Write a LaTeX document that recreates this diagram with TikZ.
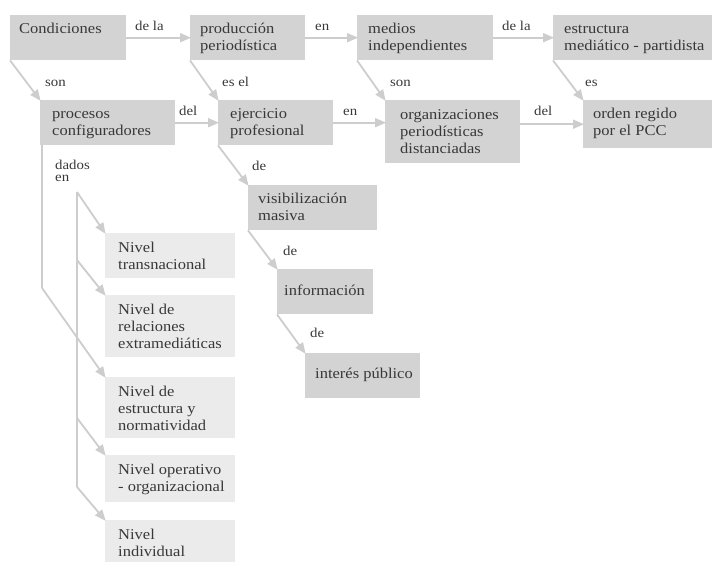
\documentclass[tikz,border=0pt]{standalone}
\usepackage{fontspec}
\setmainfont{Liberation Serif}[FakeStretch=1.1]
\usetikzlibrary{arrows.meta}
\definecolor{boxdark}{HTML}{D3D3D3}
\definecolor{boxlight}{HTML}{EBEBEB}
\definecolor{txt}{HTML}{383838}
\definecolor{arr}{HTML}{CDCDCD}
% \bx[first-line offset]{left pad}{width}{height}{text}
\newcommand{\bx}[5][18.5]{\parbox[t][#4pt][t]{#3pt}{\raggedright\leftskip=#2pt\hbadness=10000\hfuzz=100pt\rule{0pt}{#1pt}#5}}
\tikzset{
  dk/.style={fill=boxdark, anchor=north west, inner sep=0pt, text=txt, font=\fontsize{15}{17}\selectfont},
  lt/.style={dk, fill=boxlight},
  lbl/.style={anchor=base west, inner sep=0pt, text=txt, font=\fontsize{13.5}{12}\selectfont, align=left},
  conn/.style={draw=arr, line width=1.8pt, -{Triangle[length=11pt,width=9pt]}, shorten >=-1pt},
  trunk/.style={draw=arr, line width=1.8pt}
}
\begin{document}
\begin{tikzpicture}[x=1pt,y=-1pt]
\useasboundingbox (0,0) rectangle (728,562);
% top row
\node[dk] (cond) at (10,15) {\bx{9}{116}{45}{Condiciones}};
\node[dk] (prod) at (190,15) {\bx{10}{115}{45}{producción\\periodística}};
\node[dk] (med) at (357,15) {\bx{11}{136}{45}{medios\\independientes}};
\node[dk] (estr) at (553,15) {\bx{11}{159}{45}{estructura\\mediático - partidista}};
% second row
\node[dk] (proc) at (40,100) {\bx{12}{135}{45}{procesos\\configuradores}};
\node[dk] (ejer) at (218,100) {\bx{12}{115}{45}{ejercicio\\profesional}};
\node[dk] (org) at (385,100) {\bx[19]{15}{135}{63}{organizaciones\\periodísticas\\distanciadas}};
\node[dk] (orden) at (583,100) {\bx{10}{129}{48}{orden regido\\por el PCC}};
% chain
\node[dk] (vis) at (248,185) {\bx{10}{129}{45}{visibilización\\masiva}};
\node[dk] (info) at (277,269) {\bx[26]{7}{96}{45}{información}};
\node[dk] (inter) at (305,353) {\bx[25]{10}{115}{45}{interés público}};
% levels
\node[lt] (trans) at (105,233) {\bx[19]{13}{130}{45}{Nivel\\transnacional}};
\node[lt] (relac) at (105,295) {\bx[19]{13}{130}{62}{Nivel de\\relaciones\\extramediáticas}};
\node[lt] (estruc) at (105,377) {\bx[19]{13}{130}{61}{Nivel de\\estructura y\\normatividad}};
\node[lt] (oper) at (105,455) {\bx[19]{13}{130}{47}{Nivel operativo\\- organizacional}};
\node[lt] (indiv) at (105,520) {\bx[19]{13}{130}{45}{Nivel\\individual}};
% horizontal connectors
\draw[conn] (cond.east) -- (prod.west);
\draw[conn] (prod.east) -- (med.west);
\draw[conn] (med.east) -- (estr.west);
\draw[conn] (proc.east) -- (ejer.west);
\draw[conn] (ejer.east) -- (ejer.east -| org.west);
\draw[conn] (orden.west -| org.east) -- (orden.west);
% diagonal connectors
\draw[conn] (cond.south west) -- (proc.north west);
\draw[conn] (prod.south west) -- (ejer.north west);
\draw[conn] (med.south west) -- (org.north west);
\draw[conn] (estr.south west) -- (orden.north west);
\draw[conn] (ejer.south west) -- (vis.north west);
\draw[conn] (vis.south west) -- (info.north west);
\draw[conn] (info.south west) -- (inter.north west);
% procesos trunk
\coordinate (pb) at (42,288);
\draw[trunk] ([xshift=2pt]proc.south west) -- (pb);
\draw[conn] (pb) -- (estruc.north west);
% dados en trunk
\coordinate (d0) at (77,192);
\coordinate (d1) at (77,260);
\coordinate (d3) at (77,418);
\coordinate (d4) at (77,487);
\draw[trunk] (d0) -- (d4);
\draw[conn] (d0) -- (trans.north west);
\draw[conn] (d1) -- (relac.north west);
\draw[conn] (d3) -- (oper.north west);
\draw[conn] (d4) -- (indiv.north west);
% labels
\node[lbl] (l1) at (135,30) {de la};
\node[lbl] (l2) at (315,30) {en};
\node[lbl] (l3) at (502,30) {de la};
\node[lbl] (l4) at (45,86) {son};
\node[lbl] (l5) at (222,86) {es el};
\node[lbl] (l6) at (390,86) {son};
\node[lbl] (l7) at (585,86) {es};
\node[lbl] (l8) at (179,115) {del};
\node[lbl] (l9) at (343,115) {en};
\node[lbl] (l10) at (534,115) {del};
\node[lbl] (l11) at (55,181) {dados\\en};
\node[lbl] (l12) at (252,170) {de};
\node[lbl] (l13) at (283,255) {de};
\node[lbl] (l14) at (310,337) {de};
\end{tikzpicture}
\end{document}
